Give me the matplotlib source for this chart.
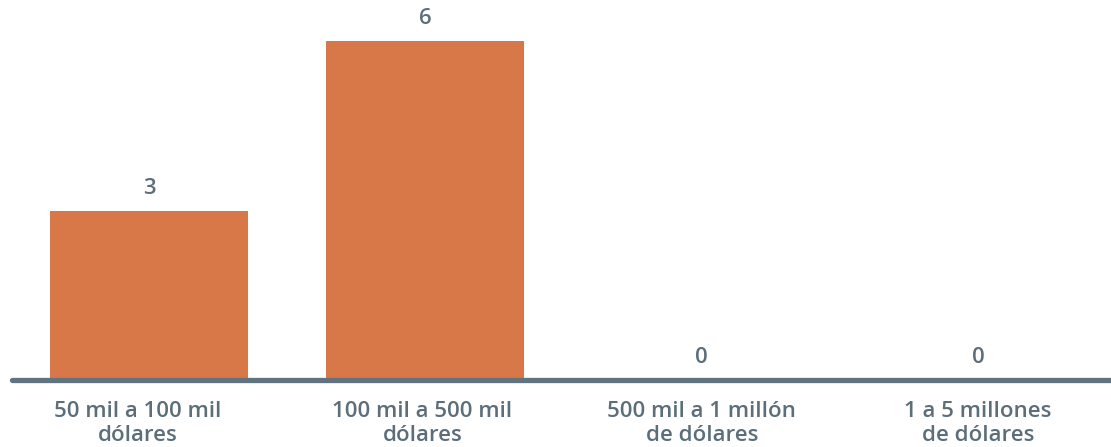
import matplotlib.pyplot as plt
from matplotlib.transforms import ScaledTranslation

# Data
categories = ['50 mil a 100 mil\ndólares', '100 mil a 500 mil\ndólares',
              '500 mil a 1 millón\nde dólares', '1 a 5 millones\nde dólares']
values = [3, 6, 0, 0]

bar_color = '#d87848'
text_color = '#5b6e7a'
line_color = '#5f7480'

plt.rcParams['font.family'] = ['Open Sans', 'DejaVu Sans']

fig = plt.figure(figsize=(11.11, 4.47), dpi=100)
ax = fig.add_axes([10 / 1111, 67 / 447, 1101 / 1111, 380 / 447])

x = range(len(categories))
ax.bar(x, values, width=0.717, color=bar_color, zorder=2)

# Value labels above bars
for xi, v in zip(x, values):
    ax.annotate(str(v), (xi, v), xytext=(0, 12), textcoords='offset pixels',
                ha='center', va='bottom', fontsize=16, fontweight='semibold',
                color=text_color)

# Baseline
ax.plot([-0.495, 3.481], [0, 0], color=line_color, linewidth=3.8,
        solid_capstyle='round', zorder=3, clip_on=False)

ax.set_xlim(-0.503, 3.481)
ax.set_ylim(0, 6.726)
ax.set_xticks(list(x))
ax.set_xticklabels(categories, fontsize=16, fontweight='semibold',
                   color=text_color, linespacing=1.17)
ax.tick_params(axis='x', length=0, pad=15)
ax.set_yticks([])
for s in ax.spines.values():
    s.set_visible(False)

# small horizontal nudges of the category labels, as in the original
shifts = [-11, -3, 0, 0]
for lbl, dx in zip(ax.get_xticklabels(), shifts):
    lbl.set_transform(lbl.get_transform() + ScaledTranslation(dx / 100, 0, fig.dpi_scale_trans))

fig.savefig('out.png', dpi=100)
